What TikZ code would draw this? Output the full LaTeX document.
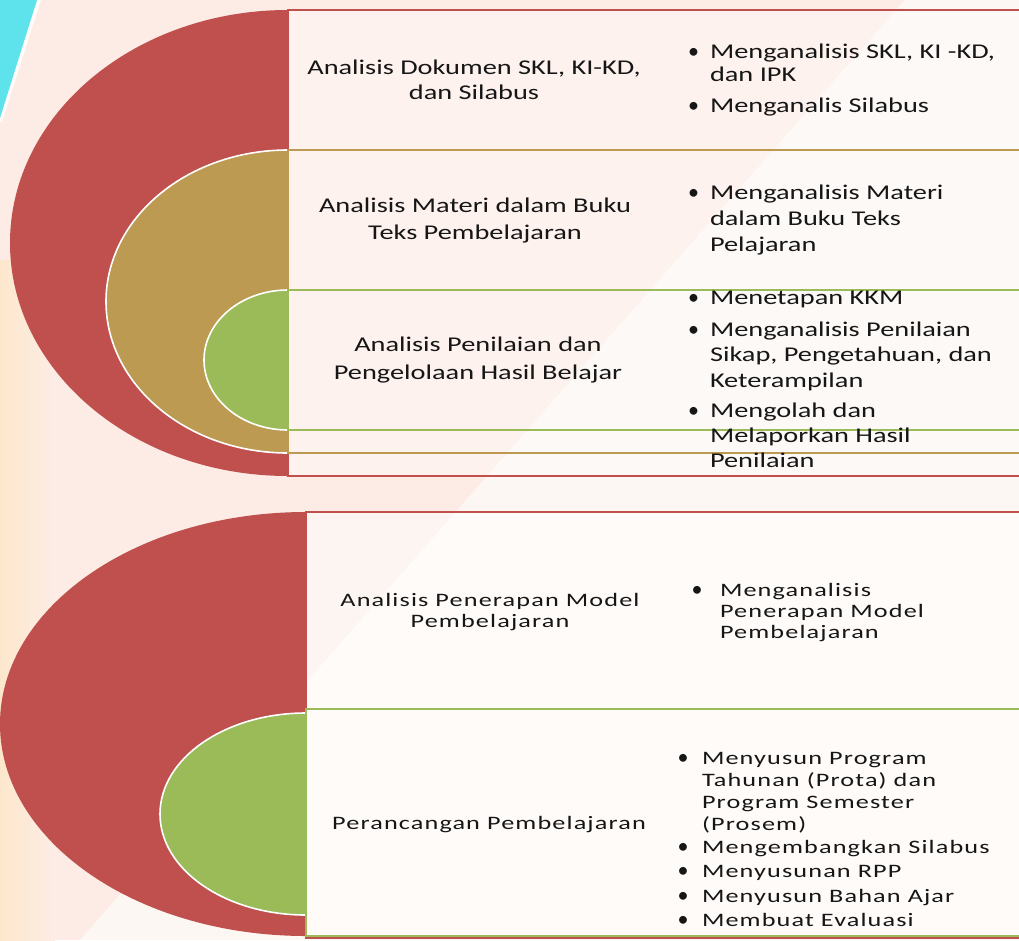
\documentclass[tikz,border=0pt]{standalone}
\usepackage{fontspec}
\setmainfont[FakeStretch=1.35]{Carlito}
\newfontfamily\lowfont[FakeStretch=1.38,LetterSpace=6]{Carlito}
\newfontfamily\dotfont{Carlito}
\definecolor{segred}{HTML}{C0504D}
\definecolor{segtan}{HTML}{BD9A51}
\definecolor{seggreen}{HTML}{9BBB59}
\definecolor{bgpink}{HTML}{FCECE5}
\definecolor{bgyellow}{HTML}{FDE7CC}
\definecolor{streak}{HTML}{5EE2EC}
\definecolor{inktext}{HTML}{161616}
% centred two-line heading in a box
\newcommand{\plabel}[3]{\fontsize{#1}{#2}\selectfont\parbox[t]{380pt}{\centering #3}}
% bullet item: bullet column width, size, line skip, text
\newcommand{\pitem}[4]{\fontsize{#2}{#3}\selectfont\makebox[#1][l]{{\dotfont\fontsize{22}{22}\selectfont\textbullet}}\parbox[t]{320pt}{\raggedright #4}}
\begin{document}
\begin{tikzpicture}[x=1pt,y=-1pt,
  every node/.style={inner sep=0pt,outer sep=0pt,text=inktext},
  head/.style={anchor=base},
  entry/.style={anchor=base west},
  frame/.style={line width=2.2pt},
  halo/.style={draw=white,line width=1.6pt}]
\useasboundingbox (0,0) rectangle (1019,940);

% background wash
\fill[bgpink] (0,0) rectangle (1019,940);
\shade[left color=bgyellow,right color=bgpink] (0,260) rectangle (55,940);
\fill[white,opacity=0.6] (905,0) -- (1019,0) -- (1019,940) -- (80,940) -- cycle;
\fill[white,opacity=0.9] (37,0) -- (41,0) -- (2,122) -- (0,122) -- (0,118) -- cycle;
\fill[streak] (0,0) -- (37,0) -- (0,118) -- cycle;

% ---------- upper group ----------
\fill[white,opacity=0.35] (288,10) rectangle (1030,476);
\begin{scope}
  \clip (-10,-10) rectangle (288,500);
  \fill[segred] (288,243) ellipse [x radius=278,y radius=233];
  \fill[segtan,halo] (288,301.5) ellipse [x radius=182,y radius=151.5];
  \fill[seggreen,halo] (288,360) ellipse [x radius=84,y radius=70];
\end{scope}
\draw[frame,segred] (288,10) rectangle (1030,476);
\draw[frame,segtan] (288,150) rectangle (1030,453);
\draw[frame,seggreen] (288,290) rectangle (1030,430);

\node[head] (docs) at (474,74) {\plabel{21}{25}{Analisis Dokumen SKL, KI-KD,\\dan Silabus}};
\node[head] (books) at (475,212) {\plabel{21}{27}{Analisis Materi dalam Buku\\Teks Pembelajaran}};
\node[head] (grading) at (478,351) {\plabel{21}{28}{Analisis Penilaian dan\\Pengelolaan Hasil Belajar}};

\node[entry] (docsA) at (688,58) {\pitem{22pt}{21}{23}{Menganalisis SKL, KI -KD,\\dan IPK}};
\node[entry] (docsB) at (688,112) {\pitem{22pt}{21}{23}{Menganalis Silabus}};
\node[entry] (booksA) at (688,199) {\pitem{22pt}{21}{26}{Menganalisis Materi\\dalam Buku Teks\\Pelajaran}};
\node[entry] (gradingA) at (688,304) {\pitem{22pt}{21}{25}{Menetapan KKM}};
\node[entry] (gradingB) at (688,336) {\pitem{22pt}{21}{25.5}{Menganalisis Penilaian\\Sikap, Pengetahuan, dan\\Keterampilan}};
\node[entry] (gradingC) at (688,417) {\pitem{22pt}{21}{25}{Mengolah dan\\Melaporkan Hasil\\Penilaian}};

% ---------- lower group ----------
\fill[white,opacity=0.5] (306,512) rectangle (1030,938);
\begin{scope}
  \clip (-10,490) rectangle (306,950);
  \fill[segred] (306,724) ellipse [x radius=306,y radius=212];
  \fill[seggreen,halo] (306,814) ellipse [x radius=146,y radius=101];
\end{scope}
\draw[frame,segred] (306,512) rectangle (1030,938);
\draw[frame,seggreen] (306,709) rectangle (1030,936);

\node[head] (model) at (490,606) {\lowfont\plabel{19}{21}{Analisis Penerapan Model\\Pembelajaran}};
\node[head] (design) at (489,829) {\lowfont\plabel{19}{22}{Perancangan Pembelajaran}};

\node[entry] (modelA) at (691.5,596) {\lowfont\pitem{28.5pt}{19}{21}{Menganalisis\\Penerapan Model\\Pembelajaran}};
\node[entry] (designA) at (677.5,764) {\lowfont\pitem{24.5pt}{19}{22}{Menyusun Program\\Tahunan (Prota) dan\\Program Semester\\(Prosem)}};
\node[entry] (designB) at (677.5,853) {\lowfont\pitem{24.5pt}{19}{22}{Mengembangkan Silabus}};
\node[entry] (designC) at (677.5,877) {\lowfont\pitem{24.5pt}{19}{22}{Menyusunan RPP}};
\node[entry] (designD) at (677.5,902) {\lowfont\pitem{24.5pt}{19}{22}{Menyusun Bahan Ajar}};
\node[entry] (designE) at (677.5,926) {\lowfont\pitem{24.5pt}{19}{22}{Membuat Evaluasi}};
\end{tikzpicture}
\end{document}
